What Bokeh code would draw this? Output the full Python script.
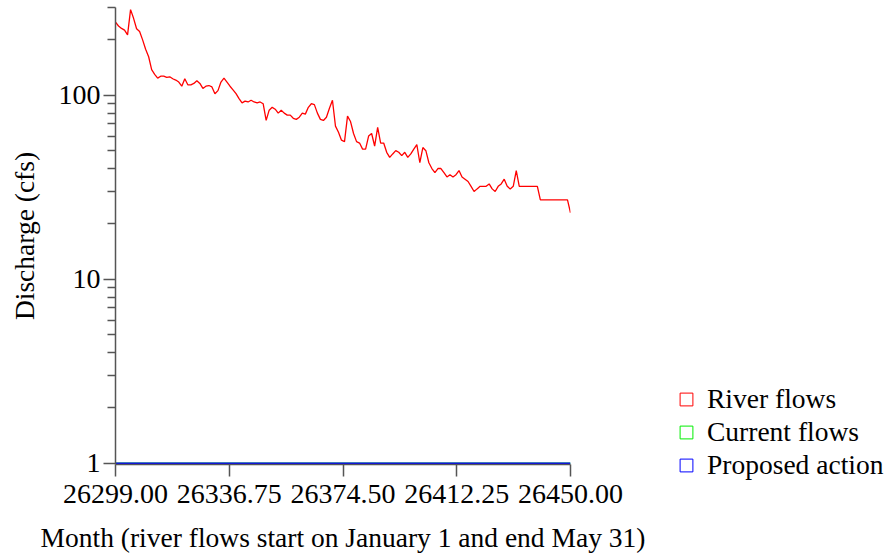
from bokeh.plotting import figure
from bokeh.layouts import row
from bokeh.models import (FixedTicker, PrintfTickFormatter, Legend, LegendItem,
                          ColumnDataSource)
from bokeh.embed import file_html
from bokeh.resources import INLINE

# ---- data ----
start_day = 26299
end_day = 26450
river_day_offset = list(range(0, 135)) + [140, 141, 150, 151]
river_flows = [
    250, 238, 231, 226, 213, 292, 262, 230, 222, 200,
    178, 162, 138, 130, 124, 127, 127, 125, 126, 123,
    121, 118, 112, 123, 114, 114, 116, 120, 116, 109,
    112, 113, 111, 102, 106, 118, 124, 118, 112, 107,
    102, 96, 91, 93, 92, 94, 92, 91, 92, 90,
    73, 83, 86, 84, 80, 83, 80, 78, 78, 75,
    74, 76, 80, 79, 86, 90, 89, 80, 74, 73,
    76, 85, 94, 68, 63, 57, 56, 77, 72, 62,
    56, 55, 51, 51, 60, 62, 53, 67, 55, 55,
    49, 46, 48, 50, 49, 47, 49, 46, 48, 51,
    54, 43, 52, 50, 43, 40, 38, 40, 40, 38,
    36, 37, 36, 37, 39, 36, 35, 34, 32, 30,
    31, 32, 32, 32, 33, 31, 30, 32, 33, 35,
    32, 31, 32, 39, 32,
    32, 27, 27, 23,
]
current_days = [26299, 26450]
current_flows = [1, 1]
proposed_days = [26299, 26450]
proposed_flows = [1, 1]
x_ticks = [26299.00, 26336.75, 26374.50, 26412.25, 26450.00]
y_ticks = [1, 10, 100]
y_minor = [2, 3, 4, 5, 6, 7, 8, 9, 20, 30, 40, 50, 60, 70, 80, 90, 200, 300]
series_names = ["River flows", "Current flows", "Proposed action"]
series_colors = ["#ff0000", "#00ee00", "#0000ff"]

river_days = [start_day + d for d in river_day_offset]

FONT = "Liberation Serif"
FS = "27.5px"
TICK_FS = "28px"

p = figure(width=650, height=559, y_axis_type="log",
           x_range=(start_day, end_day), y_range=(0.985, 300),
           output_backend="svg", toolbar_location=None,
           min_border_left=115, min_border_top=7,
           min_border_right=80, min_border_bottom=95)
p.frame_align = False
p.grid.visible = False
p.outline_line_color = None
p.background_fill_color = "white"

src = ColumnDataSource(dict(x=river_days, y=river_flows))
p.line("x", "y", source=src, line_color=series_colors[0], line_width=1.3)
p.line(current_days, current_flows, line_color=series_colors[1], line_width=1.6)
p.line(proposed_days, proposed_flows, line_color=series_colors[2], line_width=1.6)

# axes
p.xaxis.ticker = FixedTicker(ticks=x_ticks, minor_ticks=[])
p.xaxis.formatter = PrintfTickFormatter(format="%.2f")
p.yaxis.ticker = FixedTicker(ticks=y_ticks, minor_ticks=y_minor)
p.yaxis.formatter = PrintfTickFormatter(format="%d")

p.xaxis.axis_label = "Month (river flows start on January 1 and end May 31)"
p.yaxis.axis_label = "Discharge (cfs)"

for ax in (p.xaxis[0], p.yaxis[0]):
    ax.axis_line_color = "#555555"
    ax.axis_line_width = 1.5
    ax.major_tick_line_color = "#555555"
    ax.major_tick_line_width = 1.5
    ax.minor_tick_line_color = "#555555"
    ax.minor_tick_line_width = 1.5
    ax.major_tick_in = 0
    ax.major_tick_out = 12
    ax.minor_tick_in = 0
    ax.minor_tick_out = 8
    ax.major_label_text_font = FONT
    ax.major_label_text_font_size = TICK_FS
    ax.major_label_text_color = "black"
    ax.axis_label_text_font = FONT
    ax.axis_label_text_font_size = FS
    ax.axis_label_text_font_style = "normal"
    ax.axis_label_text_color = "black"

p.xaxis.major_label_standoff = 8
p.xaxis.axis_label_standoff = 16
p.yaxis.major_label_standoff = 3
p.yaxis.axis_label_standoff = 16

# ---- legend panel (separate figure to the right) ----
lg = figure(width=237, height=559, x_range=(0, 1), y_range=(0, 1),
            output_backend="svg", toolbar_location=None,
            x_axis_location=None, y_axis_location=None,
            min_border_left=0, min_border_right=0,
            min_border_top=0, min_border_bottom=0)
lg.frame_align = False
lg.grid.visible = False
lg.outline_line_color = None

proxies = []
for c in series_colors:
    r = lg.scatter(x=[float("nan")], y=[float("nan")], marker="square", size=12,
                   fill_color=None, line_color=c, line_width=1)
    proxies.append(r)

legend = Legend(items=[LegendItem(label=n, renderers=[r]) for n, r in zip(series_names, proxies)],
                location=(20, 78), border_line_alpha=0, background_fill_alpha=0,
                padding=0, margin=0, spacing=1, glyph_width=32, glyph_height=32,
                label_height=32, label_standoff=5,
                label_text_font=FONT, label_text_font_size=FS, label_text_color="black")
lg.add_layout(legend)

layout = row(p, lg)
open("out.html", "w").write(file_html(layout, INLINE))
